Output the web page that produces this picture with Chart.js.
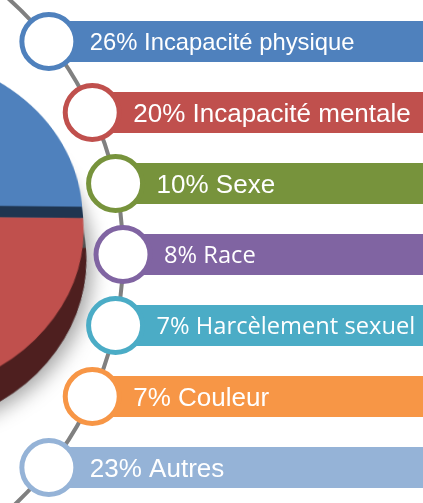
<!DOCTYPE html>
<html>
<head>
<meta charset="utf-8">
<script src="https://cdn.jsdelivr.net/npm/chart.js@4/dist/chart.umd.min.js"></script>
<style>
  html, body { margin: 0; padding: 0; background: #fff; overflow: hidden; }
  #wrap { position: relative; width: 423px; height: 503px; overflow: hidden; }
  /* tilt the pie backwards so it reads as a 3D pie seen from above */
  #pie { position: absolute; left: -297px; top: 6px; transform-origin: 190px 210px; transform: perspective(1200px) rotateX(30deg); }
  #bars { position: absolute; left: 0; top: 0; }
</style>
</head>
<body>
<div id="wrap">
  <canvas id="pie" width="404" height="460"></canvas>
  <canvas id="bars" width="423" height="503"></canvas>
</div>
<script>
// Motifs de discrimination (% des plaintes)
const categories = ['Incapacité physique', 'Incapacité mentale', 'Sexe', 'Race', 'Harcèlement sexuel', 'Couleur', 'Autres'];
const shares = [26, 20, 10, 8, 7, 7, 23];
const colors = ['#4F81BD', '#C0504D', '#77933C', '#8064A2', '#4BACC6', '#F79646', '#95B3D7'];
const sideColors = ['#1F3550', '#4E1F1F', '#3B4A1E', '#3F3251', '#255663', '#7B4B23', '#4A596B'];

// text style per banner (two rows were typed in a Calibri-like face)
const labelFonts = [
  { size: 23.8, family: '"Liberation Sans", Arial, sans-serif', cap: 0.716 },
  { size: 26, family: '"Liberation Sans", Arial, sans-serif', cap: 0.716 },
  { size: 26, family: '"Liberation Sans", Arial, sans-serif', cap: 0.716 },
  { size: 23.7, family: '"Open Sans", sans-serif', cap: 0.714 },
  { size: 23.7, family: '"Open Sans", sans-serif', cap: 0.714 },
  { size: 26, family: '"Liberation Sans", Arial, sans-serif', cap: 0.716 },
  { size: 26, family: '"Liberation Sans", Arial, sans-serif', cap: 0.716 }
];

// ---------- pie (only its right edge is on screen) ----------
const LIFT = 13, DEPTH = 34; // canvas units, before the CSS tilt

function slicePath(ctx, a, dy) {
  ctx.beginPath();
  ctx.moveTo(a.x, a.y + dy);
  ctx.arc(a.x, a.y + dy, a.outerRadius, a.startAngle, a.endAngle);
  ctx.closePath();
}

const pie3d = {
  id: 'pie3d',
  beforeDatasetsDraw(chart) {
    const ctx = chart.ctx;
    const arcs = chart.getDatasetMeta(0).data;
    // soft shadow under the whole pie first
    ctx.save();
    ctx.shadowColor = 'rgba(0,0,0,0.35)';
    ctx.shadowBlur = 18;
    ctx.shadowOffsetX = 6;
    ctx.shadowOffsetY = 4;
    ctx.fillStyle = '#555';
    arcs.forEach(a => { slicePath(ctx, a, DEPTH); ctx.fill(); });
    ctx.restore();
    // then the side walls
    ctx.save();
    arcs.forEach((a, i) => {
      if (i === 0) return;
      ctx.fillStyle = sideColors[i];
      slicePath(ctx, a, DEPTH);
      ctx.fill();
    });
    ctx.restore();
  },
  afterDatasetsDraw(chart) {
    // first slice is lifted: show its wall, then redraw it higher
    const ctx = chart.ctx;
    const a = chart.getDatasetMeta(0).data[0];
    ctx.save();
    ctx.fillStyle = sideColors[0];
    slicePath(ctx, a, 0);
    ctx.fill();
    ctx.translate(0, -LIFT);
    a.draw(ctx);
    ctx.restore();
  }
};

new Chart(document.getElementById('pie'), {
  type: 'pie',
  data: {
    labels: categories,
    datasets: [{ data: shares, backgroundColor: colors, borderWidth: 0, hoverOffset: 0 }]
  },
  options: {
    responsive: false,
    animation: false,
    rotation: -2,
    layout: { autoPadding: false, padding: { left: 0, top: 20, right: 24, bottom: 60 } },
    plugins: { legend: { display: false }, tooltip: { enabled: false } }
  },
  plugins: [pie3d]
});

// ---------- banners ----------
const W = 423;
// markers sit on a wide arc whose centre is off to the left
const ARC_R = 343, ARC_CX = -220, ROW = 71;
const mid = (categories.length - 1) / 2;
const markerX = categories.map((_, i) => ARC_CX + Math.sqrt(ARC_R * ARC_R - Math.pow((i - mid) * ROW, 2)));

function circleThrough(a, b, c) {
  const d = 2 * (a.x * (b.y - c.y) + b.x * (c.y - a.y) + c.x * (a.y - b.y));
  const A = a.x * a.x + a.y * a.y, B = b.x * b.x + b.y * b.y, C = c.x * c.x + c.y * c.y;
  const ux = (A * (b.y - c.y) + B * (c.y - a.y) + C * (a.y - b.y)) / d;
  const uy = (A * (c.x - b.x) + B * (a.x - c.x) + C * (b.x - a.x)) / d;
  return { x: ux, y: uy, r: Math.hypot(a.x - ux, a.y - uy) };
}

const connector = {
  id: 'connector',
  beforeDatasetsDraw(chart) {
    const pts = chart.getDatasetMeta(1).data;
    const c = circleThrough(pts[0], pts[Math.floor(pts.length / 2)], pts[pts.length - 1]);
    const h = chart.height;
    const t0 = Math.asin(Math.max(-1, (0 - 5 - c.y) / c.r));
    const t1 = Math.asin(Math.min(1, (h + 5 - c.y) / c.r));
    const ctx = chart.ctx;
    ctx.save();
    ctx.strokeStyle = '#808080';
    ctx.lineWidth = 4;
    ctx.beginPath();
    ctx.arc(c.x, c.y, c.r, t0, t1);
    ctx.stroke();
    ctx.restore();
  }
};

const bannerText = {
  id: 'bannerText',
  afterDatasetsDraw(chart) {
    const ctx = chart.ctx;
    const pts = chart.getDatasetMeta(1).data;
    ctx.save();
    ctx.fillStyle = '#fff';
    ctx.textAlign = 'left';
    ctx.textBaseline = 'alphabetic';
    pts.forEach((p, i) => {
      const f = labelFonts[i];
      ctx.font = f.size + 'px ' + f.family;
      ctx.fillText(shares[i] + '% ' + categories[i], p.x + 41, p.y + f.size * f.cap / 2);
    });
    ctx.restore();
  }
};

new Chart(document.getElementById('bars'), {
  type: 'bar',
  data: {
    labels: categories,
    datasets: [
      {
        type: 'bar',
        indexAxis: 'y',
        data: markerX.map(x => [x, W]),
        backgroundColor: colors,
        borderWidth: 0,
        barPercentage: 0.58,
        categoryPercentage: 1,
        order: 2
      },
      {
        type: 'line',
        indexAxis: 'y',
        data: markerX,
        showLine: false,
        clip: false,
        pointRadius: 27,
        pointBorderWidth: 5,
        pointBackgroundColor: '#fff',
        pointBorderColor: colors,
        order: 1
      }
    ]
  },
  options: {
    indexAxis: 'y',
    responsive: false,
    animation: false,
    layout: { autoPadding: false, padding: { top: 6, bottom: 0, left: 0, right: 0 } },
    scales: {
      x: { type: 'linear', min: 0, max: W, display: false },
      y: { type: 'category', offset: true, display: false }
    },
    plugins: { legend: { display: false }, tooltip: { enabled: false } }
  },
  plugins: [connector, bannerText]
});
</script>
</body>
</html>
